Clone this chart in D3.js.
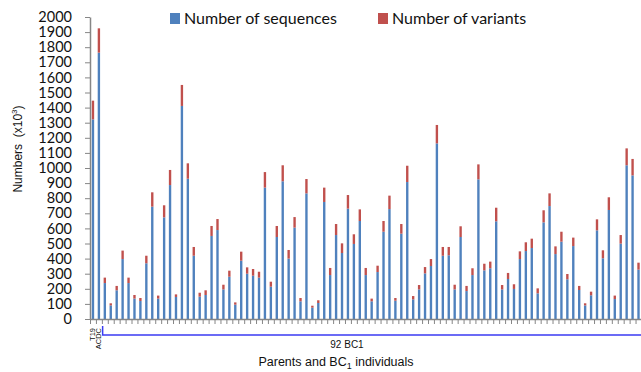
<!DOCTYPE html>
<html>
<head>
<meta charset="utf-8">
<script src="https://cdn.jsdelivr.net/npm/d3@7"></script>
<style>
  body { margin: 0; background: #fff; }
  svg { display: block; }
</style>
</head>
<body>
<svg id="chart"></svg>
<script>
var width = 641;
var height = 372;

// two parents then the 92 BC1 individuals (last one runs off the right edge)
var parents = ['T19', 'ACDC'];
var bc1 = d3.range(1, 93).map(i => 'BC1-' + i);
var categories = parents.concat(bc1);

// values in thousands
var sequences = [1322, 1764, 238, 90, 190, 397, 238, 135, 119, 369,
  744, 135, 673, 887, 146, 1411, 929, 419, 148, 159,
  550, 589, 196, 280, 95, 386, 300, 287, 274, 870,
  214, 543, 912, 400, 605, 117, 832, 75, 106, 775,
  291, 556, 437, 731, 497, 649, 291, 117, 311, 578,
  728, 121, 565, 907, 130, 196, 302, 351, 1163, 419,
  422, 196, 543, 185, 291, 925, 322, 336, 647, 196,
  265, 199, 397, 450, 470, 170, 640, 748, 430, 512,
  263, 483, 192, 90, 157, 587, 402, 722, 132, 499,
  1018, 951, 327, 300];
var variants = [124, 161, 36, 14, 29, 56, 36, 24, 20, 50,
  95, 20, 80, 100, 17, 139, 102, 58, 26, 31,
  66, 73, 31, 40, 15, 60, 42, 44, 39, 103,
  33, 73, 106, 57, 70, 22, 95, 13, 18, 95,
  47, 73, 64, 90, 64, 77, 47, 18, 42, 71,
  89, 18, 64, 108, 22, 29, 42, 46, 122, 58,
  55, 31, 71, 34, 45, 99, 44, 44, 90, 29,
  40, 31, 51, 58, 62, 33, 80, 84, 51, 66,
  35, 56, 27, 14, 24, 73, 53, 84, 23, 57,
  112, 109, 46, 40];

var seriesNames = ['Number of sequences', 'Number of variants'];
var colors = ['#4f81bd', '#c0504d'];
var yTicks = d3.range(0, 2001, 100);

var rows = categories.map((c, i) => ({cat: c, seq: sequences[i], vars: variants[i]}));
var stacked = d3.stack().keys(['seq', 'vars'])(rows);

var plotLeft = 90, plotRight = 647.4, plotTop = 17, plotBottom = 319;

var svg = d3.select('#chart')
    .attr('width', width)
    .attr('height', height);

var xScale = d3.scaleBand()
    .domain(categories)
    .range([plotLeft, plotRight])
    .paddingInner(0.6)
    .paddingOuter(0.3);

var tickScale = d3.scaleLinear()
    .domain([0, categories.length])
    .range([plotLeft, plotRight]);

var yScale = d3.scaleLinear()
    .domain([0, 2000])
    .range([plotBottom, plotTop]);

// bars
svg.append('g')
  .selectAll('g')
  .data(stacked)
  .enter()
  .append('g')
    .attr('fill', (d, i) => colors[i])
  .selectAll('rect')
  .data(d => d)
  .enter()
  .append('rect')
    .attr('x', d => xScale(d.data.cat))
    .attr('y', d => yScale(d[1]))
    .attr('width', xScale.bandwidth())
    .attr('height', d => yScale(d[0]) - yScale(d[1]));

// y axis
var yAxis = svg.append('g')
    .attr('transform', 'translate(' + plotLeft + ',0)')
    .call(d3.axisLeft(yScale).tickValues(yTicks).tickFormat(d3.format('d')).tickSize(5).tickPadding(13).tickSizeOuter(0));
yAxis.select('.domain').attr('stroke', '#868686').attr('stroke-width', 1.5);
yAxis.selectAll('line').attr('stroke', '#868686');
yAxis.selectAll('text')
    .attr('font-family', 'Lato, sans-serif')
    .attr('font-size', 14.5)
    .attr('fill', '#111');

// x axis, ticks between categories
var xAxis = svg.append('g')
    .attr('transform', 'translate(0,' + plotBottom + ')')
    .call(d3.axisBottom(tickScale).tickValues(d3.range(categories.length + 1)).tickSize(5).tickFormat('').tickSizeOuter(0));
xAxis.select('.domain').attr('stroke', '#868686').attr('stroke-width', 1.5);
xAxis.selectAll('line').attr('stroke', '#868686');

// parent labels
svg.selectAll('.plabel')
  .data(parents)
  .enter()
  .append('text')
    .attr('class', 'plabel')
    .attr('transform', d => 'translate(' + (xScale(d) + xScale.bandwidth() / 2 + 2.5) + ',' + (plotBottom + 9) + ') rotate(-90)')
    .attr('text-anchor', 'end')
    .attr('font-family', 'Liberation Sans, Arial, sans-serif')
    .attr('font-size', 7.5)
    .attr('fill', '#111')
    .text(d => d);

// bracket for the BC1 group
var bx = xScale(bc1[0]) - 1;
svg.append('path')
    .attr('d', 'M' + bx + ',' + (plotBottom + 7) + 'V' + (plotBottom + 16) + 'H' + width)
    .attr('fill', 'none')
    .attr('stroke', '#3b3bf2')
    .attr('stroke-width', 1.5);

svg.append('text')
    .attr('x', 347)
    .attr('y', 348)
    .attr('text-anchor', 'middle')
    .attr('font-family', 'Liberation Sans, Arial, sans-serif')
    .attr('font-size', 10)
    .attr('fill', '#111')
    .text('92 BC1');

// axis titles
var xt = svg.append('text')
    .attr('x', 336)
    .attr('y', 366)
    .attr('text-anchor', 'middle')
    .attr('font-family', 'Liberation Sans, Arial, sans-serif')
    .attr('font-size', 12.5)
    .attr('fill', '#111');
xt.append('tspan').text('Parents and BC');
xt.append('tspan').attr('font-size', 9).attr('dy', 2.5).text('1');
xt.append('tspan').attr('dy', -2.5).text(' individuals');

var yt = svg.append('text')
    .attr('transform', 'translate(22,149) rotate(-90)')
    .attr('text-anchor', 'middle')
    .attr('font-family', 'Liberation Sans, Arial, sans-serif')
    .attr('font-size', 12)
    .attr('fill', '#111')
    .style('white-space', 'pre');
yt.append('tspan').text('Numbers  (x10');
yt.append('tspan').attr('font-size', 8).attr('dy', -5).text('3');
yt.append('tspan').attr('dy', 5).text(')');

// legend
var legendX = [170, 378];
var legend = svg.selectAll('.legend')
  .data(seriesNames)
  .enter()
  .append('g')
    .attr('class', 'legend')
    .attr('transform', (d, i) => 'translate(' + legendX[i] + ',13)');
legend.append('rect')
    .attr('width', 10)
    .attr('height', 11)
    .attr('fill', (d, i) => colors[i]);
legend.append('text')
    .attr('x', 14)
    .attr('y', 11)
    .attr('font-family', 'Lato, sans-serif')
    .attr('font-size', 16)
    .attr('fill', '#111')
    .text(d => d);
</script>
</body>
</html>
